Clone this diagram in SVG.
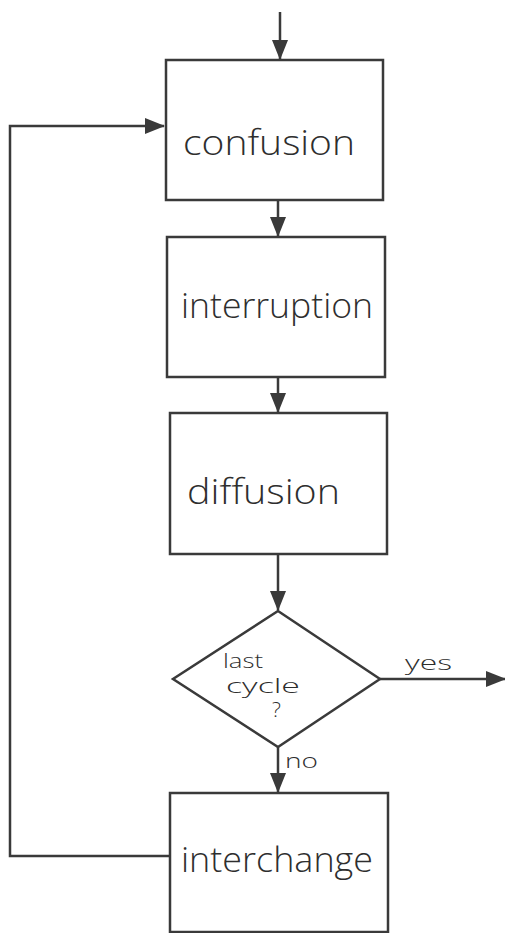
<svg xmlns="http://www.w3.org/2000/svg" width="505" height="933" viewBox="0 0 505 933">
<style>
.box{fill:#fff;stroke:#3a3a3a;stroke-width:2.5}
.ln{fill:none;stroke:#3a3a3a;stroke-width:2.5}
.lbl{font-family:"Open Sans","DejaVu Sans",sans-serif;font-size:34px;fill:#2e2e2e;font-weight:300}
.sm{font-family:"Open Sans","DejaVu Sans",sans-serif;font-size:21px;fill:#2e2e2e;font-weight:300}
</style>
<defs>
<marker id="ah" viewBox="0 0 20 18" refX="19" refY="9" markerWidth="20" markerHeight="18" markerUnits="userSpaceOnUse" orient="auto">
<path d="M0,1 L20,9 L0,17 Z" fill="#3a3a3a"/>
</marker>
</defs>
<rect width="505" height="933" fill="#fff"/>
<g id="connectors">
<line class="ln" x1="280" y1="12" x2="280" y2="59" marker-end="url(#ah)"/>
<line class="ln" x1="278" y1="200" x2="278" y2="236" marker-end="url(#ah)"/>
<line class="ln" x1="278" y1="377" x2="278" y2="412" marker-end="url(#ah)"/>
<line class="ln" x1="278" y1="554" x2="278" y2="610" marker-end="url(#ah)"/>
<line class="ln" x1="380" y1="679" x2="505" y2="679" marker-end="url(#ah)"/>
<line class="ln" x1="278" y1="747" x2="278" y2="792" marker-end="url(#ah)"/>
<polyline class="ln" points="170,856 10,856 10,126 164,126" marker-end="url(#ah)"/>
<text class="sm" x="405" y="670" textLength="47" lengthAdjust="spacingAndGlyphs">yes</text>
<text class="sm" x="285" y="768" textLength="33" lengthAdjust="spacingAndGlyphs">no</text>
</g>
<g id="confusion">
<rect class="box" x="166" y="60" width="217" height="140"/>
<text class="lbl" x="183" y="155" textLength="172" lengthAdjust="spacingAndGlyphs">confusion</text>
</g>
<g id="interruption">
<rect class="box" x="167" y="237" width="218" height="140"/>
<text class="lbl" x="181" y="318" textLength="192" lengthAdjust="spacingAndGlyphs">interruption</text>
</g>
<g id="diffusion">
<rect class="box" x="170" y="413" width="217" height="141"/>
<text class="lbl" x="187" y="504" textLength="153" lengthAdjust="spacingAndGlyphs">diffusion</text>
</g>
<g id="last-cycle">
<polygon class="box" points="278,611 380,679 278,747 173,679"/>
<text class="sm" x="223" y="668" textLength="40" lengthAdjust="spacingAndGlyphs">last</text>
<text class="sm" x="226" y="693" textLength="74" lengthAdjust="spacingAndGlyphs">cycle</text>
<text class="sm" x="272" y="717">?</text>
</g>
<g id="interchange">
<rect class="box" x="170" y="793" width="218" height="139"/>
<text class="lbl" x="181" y="872" textLength="192" lengthAdjust="spacingAndGlyphs">interchange</text>
</g>
</svg>
